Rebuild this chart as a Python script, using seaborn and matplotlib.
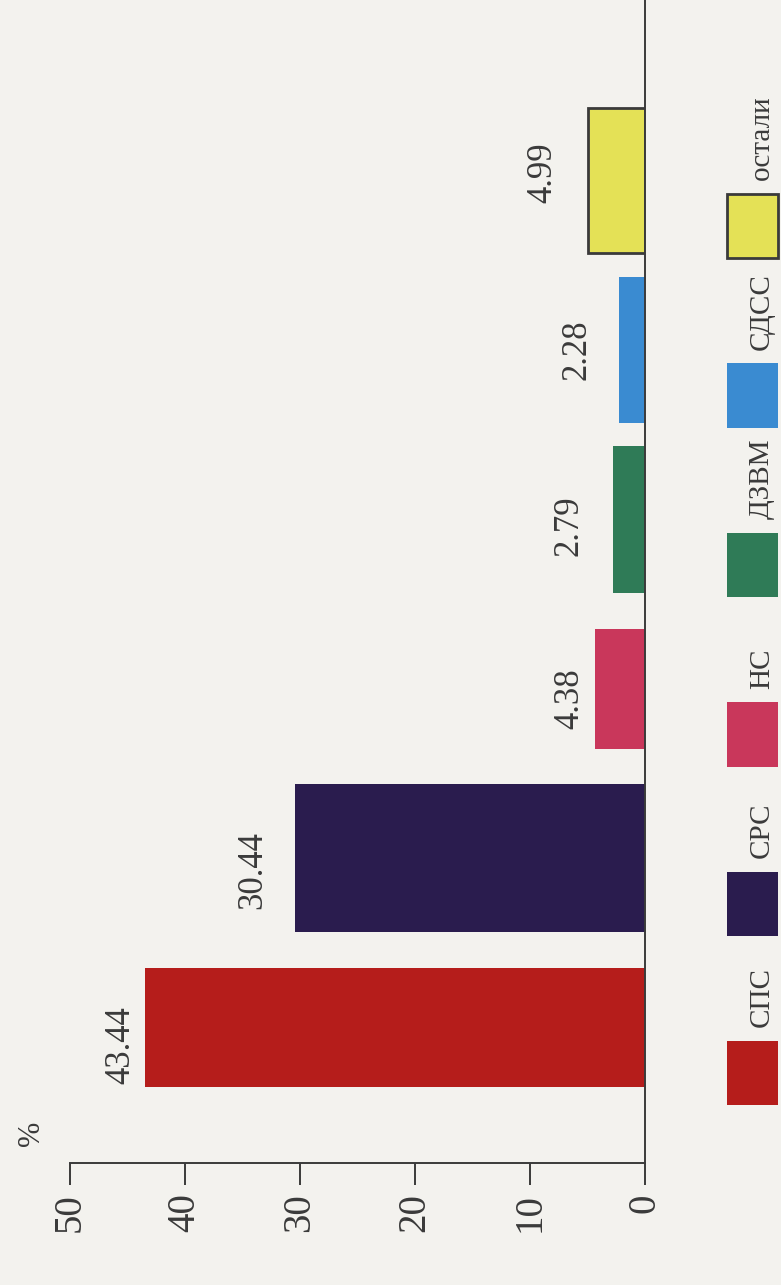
import matplotlib
matplotlib.use("Agg")
import matplotlib.pyplot as plt
import matplotlib.transforms as mtransforms
from matplotlib.patches import Rectangle
import pandas as pd
import seaborn as sns

parties = ["СПС", "СРС", "НС", "ДЗВМ", "СДСС", "остали"]
shares = [43.44, 30.44, 4.38, 2.79, 2.28, 4.99]
value_labels = ["43.44", "30.44", "4.38", "2.79", "2.28", "4.99"]
ticks = [0, 10, 20, 30, 40, 50]

# styling
colors = ["#b51d1b", "#2a1c4e", "#c9375b", "#2f7b57", "#3a8bd1", "#e4e156"]
bar_heights = [0.70, 0.87, 0.71, 0.87, 0.86, 0.86]
label_gaps = [8, 26, 8, 27, 25, 28]
label_shift = [-18, -12, -10, -6, 0, 8]   # pixels, along the category axis
bg = "#f3f2ee"
ink = "#3a3a3a"

sns.set_theme(style="white")
plt.rcParams["font.family"] = ["Liberation Serif", "DejaVu Serif"]

df = pd.DataFrame({"party": parties, "share": shares})

W, H = 781, 1285
fig = plt.figure(figsize=(W / 100, H / 100), dpi=100, facecolor=bg)
ax = fig.add_axes([70 / W, 122 / H, 575 / W, 1163 / H])
ax.set_facecolor(bg)

sns.barplot(data=df, x="share", y="party", hue="party", palette=colors,
            orient="h", width=0.87, saturation=1, legend=False, ax=ax)

# per-bar thickness, yellow one gets a dark outline
for p in ax.patches:
    idx = int(round(p.get_y() + p.get_height() / 2))
    c = p.get_y() + p.get_height() / 2
    p.set_height(bar_heights[idx])
    p.set_y(c - bar_heights[idx] / 2)
    p.set_linewidth(0)
    if parties[idx] == "остали":
        p.set_edgecolor(ink)
        p.set_linewidth(2)

ax.set_xlim(50, 0)
ax.set_ylim(-0.80, 6.065)

for side in ["left", "top"]:
    ax.spines[side].set_visible(False)
for side in ["right", "bottom"]:
    ax.spines[side].set_color(ink)
    ax.spines[side].set_linewidth(1.4)

ax.set_xticks(ticks)
ax.set_xticklabels([str(t) for t in ticks])
ax.set_yticks([])
ax.tick_params(axis="x", bottom=True, direction="out", length=16, width=1.4,
               color=ink, labelsize=28, pad=6, labelrotation=90, labelcolor=ink)
ax.set_xlabel("")
ax.set_ylabel("")

# value labels, rotated like the rest of the sheet
for i, (v, lbl) in enumerate(zip(shares, value_labels)):
    ax.annotate(lbl, xy=(v, i), xytext=(-label_gaps[i], label_shift[i]),
                textcoords="offset pixels", rotation=90, ha="right", va="center",
                fontsize=25, color=ink)

fig.text(32 / W, 1 - 1133 / H, "%", rotation=90, ha="center", va="center",
         fontsize=22, color=ink)

# legend column on the right edge
trans = mtransforms.blended_transform_factory(fig.transFigure, ax.transData)
for i, (name, col) in enumerate(zip(parties, colors)):
    yc = i - 0.27
    rect = Rectangle((727 / W, yc - 0.19), 51 / W, 0.38, transform=trans,
                     facecolor=col, edgecolor=ink if name == "остали" else "none",
                     linewidth=2, clip_on=False)
    fig.add_artist(rect)
    fig.text(762 / W, yc + 0.27, name, transform=trans, rotation=90,
             ha="center", va="bottom", fontsize=21, color=ink)

fig.savefig("out.png", dpi=100, facecolor=bg)
